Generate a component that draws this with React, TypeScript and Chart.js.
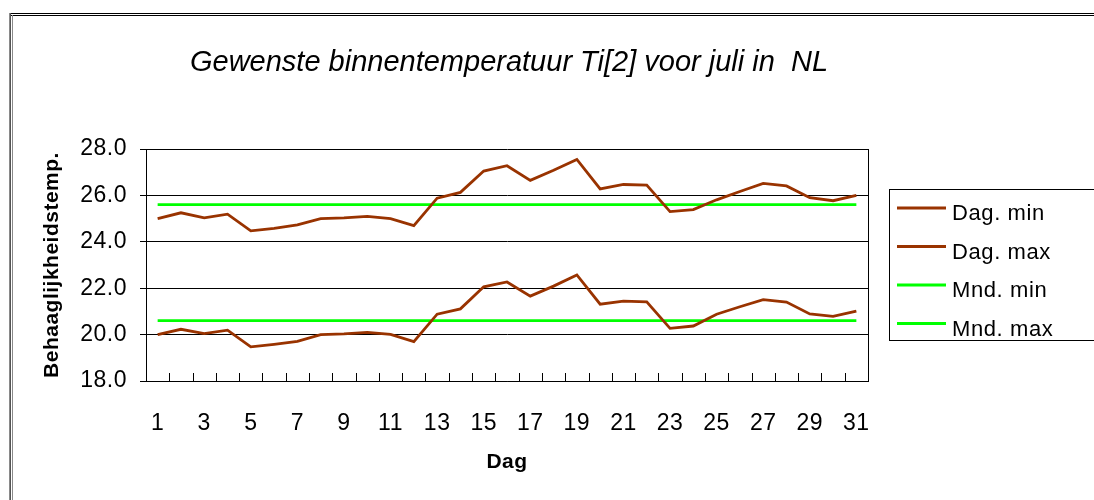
import React, { useEffect, useRef } from 'react';
import { Chart, registerables } from 'chart.js';

Chart.register(...registerables);

const FONT = "'Liberation Sans', Arial, sans-serif";

const chartTitle = 'Gewenste binnentemperatuur Ti[2] voor juli in  NL';
const yAxisTitle = 'Behaaglijkheidstemp.';
const xAxisTitle = 'Dag';

const days = [
  '1', '2', '3', '4', '5', '6', '7', '8', '9', '10', '11', '12', '13', '14', '15', '16',
  '17', '18', '19', '20', '21', '22', '23', '24', '25', '26', '27', '28', '29', '30', '31',
];

const yTickValues = [18, 20, 22, 24, 26, 28];

const dagMin = [
  20.0, 20.23, 20.04, 20.19, 19.47, 19.58, 19.71, 20.0, 20.03, 20.1, 20.01, 19.7, 20.88, 21.11, 22.06, 22.27,
  21.66, 22.09, 22.57, 21.31, 21.44, 21.41, 20.27, 20.37, 20.88, 21.2, 21.51, 21.4, 20.89, 20.79, 21.01,
];

const dagMax = [
  25.0, 25.25, 25.03, 25.19, 24.47, 24.58, 24.73, 25.0, 25.03, 25.1, 25.0, 24.7, 25.88, 26.13, 27.05, 27.28,
  26.65, 27.08, 27.55, 26.28, 26.47, 26.44, 25.3, 25.39, 25.81, 26.17, 26.52, 26.41, 25.9, 25.77, 26.0,
];

const mndMin = [
  20.6, 20.6, 20.6, 20.6, 20.6, 20.6, 20.6, 20.6, 20.6, 20.6, 20.6, 20.6, 20.6, 20.6, 20.6, 20.6,
  20.6, 20.6, 20.6, 20.6, 20.6, 20.6, 20.6, 20.6, 20.6, 20.6, 20.6, 20.6, 20.6, 20.6, 20.6,
];

const mndMax = [
  25.6, 25.6, 25.6, 25.6, 25.6, 25.6, 25.6, 25.6, 25.6, 25.6, 25.6, 25.6, 25.6, 25.6, 25.6, 25.6,
  25.6, 25.6, 25.6, 25.6, 25.6, 25.6, 25.6, 25.6, 25.6, 25.6, 25.6, 25.6, 25.6, 25.6, 25.6,
];

const seriesLabels = ['Dag. min', 'Dag. max', 'Mnd. min', 'Mnd. max'];
const BROWN = '#993300';
const GREEN = '#00FF00';

const decorPlugin = {
  id: 'decor',
  beforeDraw(chart: any) {
    const { ctx, width, height } = chart;
    ctx.save();
    ctx.fillStyle = '#ffffff';
    ctx.fillRect(0, 0, width, height);
    ctx.restore();
    ctx.letterSpacing = '0.5px';
  },
  afterDraw(chart: any) {
    const { ctx, chartArea, scales, width, height } = chart;
    const xs = scales.x;
    ctx.save();

    // plot area right border
    ctx.strokeStyle = '#000';
    ctx.lineWidth = 1;
    const r = Math.round(chartArea.right) + 0.5;
    ctx.beginPath();
    ctx.moveTo(r, Math.round(chartArea.top));
    ctx.lineTo(r, Math.round(chartArea.bottom) + 1);
    ctx.stroke();

    // inward tick marks on category axis
    const step = xs.getPixelForValue(1) - xs.getPixelForValue(0);
    const start = xs.getPixelForValue(0) - step / 2;
    const b = Math.round(chartArea.bottom);
    ctx.beginPath();
    for (let i = 0; i <= days.length; i++) {
      const px = Math.round(start + i * step) + 0.5;
      ctx.moveTo(px, b);
      ctx.lineTo(px, b - 8);
    }
    ctx.stroke();

    // title
    ctx.fillStyle = '#000';
    ctx.font = `italic 29px ${FONT}`;
    ctx.letterSpacing = '0px';
    ctx.textAlign = 'center';
    ctx.textBaseline = 'alphabetic';
    ctx.fillText(chartTitle, (chartArea.left + chartArea.right) / 2 + 2, 71);

    // legend
    ctx.letterSpacing = '0.6px';
    ctx.strokeStyle = '#000';
    ctx.lineWidth = 1;
    ctx.strokeRect(889.5, 189.5, 300, 151);
    ctx.font = `22px ${FONT}`;
    ctx.textAlign = 'left';
    chart.data.datasets.forEach((ds: any, i: number) => {
      const ly = 208 + i * 38.5;
      ctx.strokeStyle = ds.borderColor;
      ctx.lineWidth = ds.borderWidth;
      ctx.beginPath();
      ctx.moveTo(897, ly);
      ctx.lineTo(946, ly);
      ctx.stroke();
      ctx.fillStyle = '#000';
      ctx.fillText(ds.label, 952, ly + 12);
    });

    // outer frame
    ctx.fillStyle = '#000';
    ctx.fillRect(11, 13, width - 11, 1);
    ctx.fillRect(11, 15, width - 11, 1);
    ctx.fillStyle = '#8a8a8a';
    ctx.fillRect(9, 13, 1, height - 13);
    ctx.fillRect(12, 15, 1, height - 15);
    ctx.fillStyle = '#555';
    ctx.fillRect(10, 13, 1, height - 13);

    ctx.restore();
  },
};

export default function App() {
  const canvasRef = useRef<HTMLCanvasElement | null>(null);

  useEffect(() => {
    if (!canvasRef.current) return;
    const mk = (label: string, data: number[], color: string) => ({
      label,
      data,
      borderColor: color,
      backgroundColor: color,
      borderWidth: 2.8,
      pointRadius: 0,
      pointHoverRadius: 0,
      tension: 0,
      fill: false,
    });
    const chart = new Chart(canvasRef.current, {
      type: 'line',
      data: {
        labels: days,
        datasets: [
          mk(seriesLabels[0], dagMin, BROWN),
          mk(seriesLabels[1], dagMax, BROWN),
          mk(seriesLabels[2], mndMin, GREEN),
          mk(seriesLabels[3], mndMax, GREEN),
        ],
      },
      options: {
        responsive: false,
        animation: false,
        devicePixelRatio: 1,
        layout: { padding: { top: 149, right: 226, bottom: 0, left: 0 } },
        plugins: {
          legend: { display: false },
          title: { display: false },
          tooltip: { enabled: false },
        },
        scales: {
          x: {
            type: 'category',
            offset: true,
            grid: {
              display: true,
              drawOnChartArea: false,
              drawTicks: false,
              tickLength: 0,
              offset: true,
              color: '#000',
            },
            border: { display: true, color: '#000', width: 1 },
            ticks: {
              autoSkip: false,
              maxRotation: 0,
              minRotation: 0,
              padding: 29,
              color: '#000',
              font: { family: FONT, size: 23 },
              callback: (_v: any, idx: number) => (idx % 2 === 0 ? days[idx] : ''),
            },
            title: {
              display: true,
              text: xAxisTitle,
              color: '#000',
              font: { family: FONT, size: 21, weight: 'bold' },
              padding: { top: 0, bottom: 25 },
            },
            afterFit: (scale: any) => {
              scale.height = 119;
            },
          },
          y: {
            min: 18,
            max: 28,
            afterBuildTicks: (scale: any) => {
              scale.ticks = yTickValues.map((v) => ({ value: v }));
            },
            grid: {
              color: '#000',
              lineWidth: 1,
              drawTicks: true,
              tickLength: 6,
            },
            border: { display: true, color: '#000', width: 1 },
            ticks: {
              padding: 13,
              color: '#000',
              font: { family: FONT, size: 23 },
              callback: (v: any) => Number(v).toFixed(1),
            },
            title: {
              display: true,
              text: yAxisTitle,
              color: '#000',
              font: { family: FONT, size: 21, weight: 'bold' },
              padding: { top: 40, bottom: 0 },
            },
            afterFit: (scale: any) => {
              scale.width = 146;
            },
          },
        },
      },
      plugins: [decorPlugin],
    });
    return () => chart.destroy();
  }, []);

  return (
    <div style={{ position: 'absolute', left: 0, top: 0, width: 1094, height: 500, background: '#fff' }}>
      <canvas ref={canvasRef} width={1094} height={500} style={{ display: 'block' }} />
    </div>
  );
}
